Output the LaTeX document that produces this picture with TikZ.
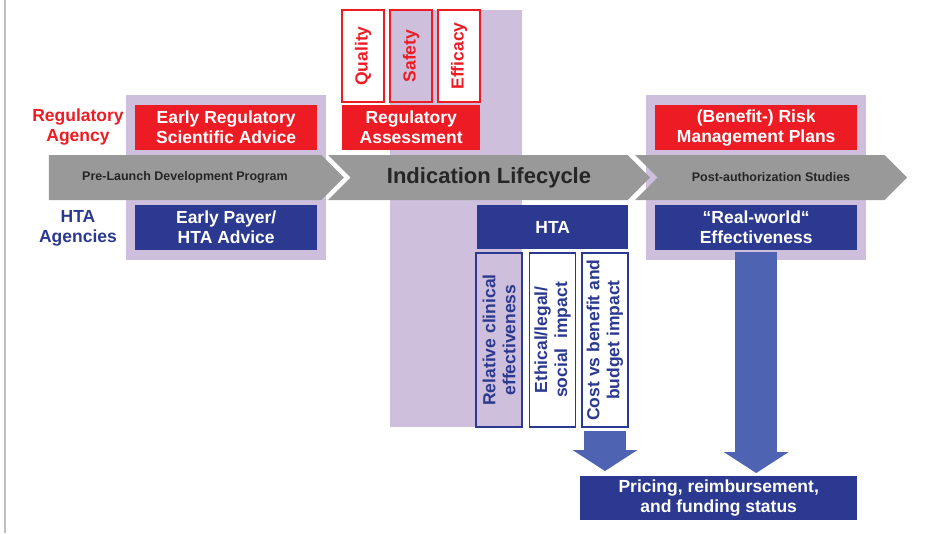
\documentclass[tikz,border=0pt]{standalone}
\usepackage{fontspec}
\setmainfont{Liberation Sans}
\usetikzlibrary{arrows.meta, positioning, fit, backgrounds, calc, shapes.symbols}

\definecolor{regred}{RGB}{237,28,36}
\definecolor{htablue}{RGB}{43,57,144}
\definecolor{lilac}{RGB}{206,192,220}
\definecolor{chevgray}{RGB}{153,153,153}
\definecolor{arrowblue}{RGB}{78,100,178}

\tikzset{
  every node/.style={font=\bfseries\fontsize{17.5}{20}\selectfont, inner sep=0pt, align=center},
  regbox/.style={fill=regred, text=white, minimum height=45pt},
  htabox/.style={fill=htablue, text=white, minimum height=45pt},
  pillar/.style={draw=regred, line width=1.5pt, text=regred, rotate=90,
    minimum width=92pt, minimum height=42pt},
  hpillar/.style={draw=htablue, line width=1.5pt, text=htablue, rotate=90,
    minimum width=174pt, minimum height=46pt},
  panel/.style={fill=lilac, inner xsep=9pt, inner ysep=10pt},
  phase/.style={shape=signal, fill=chevgray, signal to=east, signal pointer angle=90,
    minimum height=45pt, text=black!85, font=\bfseries\fontsize{12.5}{14}\selectfont},
  blockarr/.style={arrowblue, line width=42pt,
    -{Triangle[width=65pt, length=21pt, line width=0pt]}},
}

\begin{document}
\begin{tikzpicture}[x=1pt, y=-1pt]
        \useasboundingbox (0,0) rectangle (933,533);
        \draw[black!25, line width=2pt] (5,0) -- (5,533);

        % side labels
        \node[text=regred] (regagency) at (78,127) {Regulatory\\Agency};
        \node[text=htablue] (htaagency) at (78,228) {HTA\\Agencies};

        % pre-launch
        \node[regbox, anchor=north west, minimum width=182pt] (earlyreg) at (135,105) {Early Regulatory\\Scientific Advice};
        \node[htabox, anchor=north west, minimum width=182pt] (earlypayer) at (135,205) {Early Payer/\\HTA Advice};

        % assessment
        \node[pillar, fill=white] (quality) at (363,56) {Quality};
        \node[pillar] (safety) at (411,56) {Safety};
        \node[pillar, fill=white] (efficacy) at (459,56) {Efficacy};
        \node[regbox, anchor=north west, minimum width=138pt] (regassess) at (342,105) {Regulatory\\Assessment};
        \node[htabox, anchor=north west, minimum width=151pt, minimum height=44pt] (hta) at (477,205) {HTA};
        \node[hpillar] (relclin) at (499,340) {Relative clinical\\effectiveness};
        \node[hpillar, fill=white] (ethical) at (552.5,340) {Ethical/legal/\\social\ \ impact};
        \node[hpillar, fill=white] (cost) at (605,340) {Cost vs benefit and\\budget impact};

        % post-authorization
        \node[regbox, anchor=north west, minimum width=202pt] (riskplan) at (655,105) {(Benefit-) Risk\\Management Plans};
        \node[htabox, anchor=north west, minimum width=202pt] (realworld) at (655,205) {“Real-world“\\Effectiveness};
        \node[htabox, anchor=north west, minimum width=277pt, minimum height=44pt] (pricing) at (580,476) {Pricing, reimbursement,\\and funding status};

        % backdrops
        \begin{scope}[on background layer]
          \node[fill=lilac, anchor=north west, minimum width=132pt, minimum height=417pt] (column) at (390,10) {};
          \node[panel, fit=(earlyreg)(earlypayer)] (earlypanel) {};
          \node[panel, fit=(riskplan)(realworld)] (postpanel) {};
        \end{scope}

        % lifecycle chevrons
        \node[phase, signal from=nowhere, minimum width=295pt] (prelaunch) at (185,177.5) {Pre-Launch Development Program};
        \node[phase, signal from=west, minimum width=322pt, font=\bfseries\fontsize{22}{24}\selectfont] (lifecycle) at (489,177.5) {Indication Lifecycle};
        \node[phase, signal from=west, minimum width=272pt] (postauth) at (771,177.5) {Post-authorization Studies};

        % arrows
        \draw[blockarr, shorten <=3pt, shorten >=5pt] (cost.west) -- (cost.west |- pricing.north);
        \draw[blockarr, shorten <=2pt, shorten >=3pt] (realworld.south) -- (realworld.south |- pricing.north);
\end{tikzpicture}
\end{document}
